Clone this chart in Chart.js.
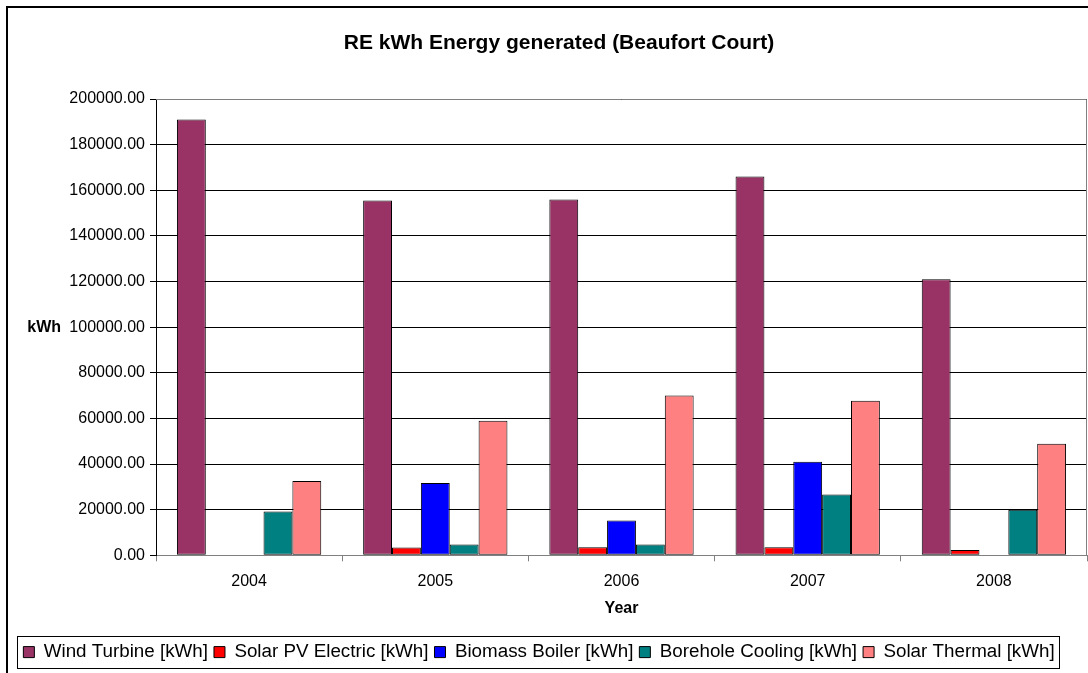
<!DOCTYPE html>
<html>
<head>
<meta charset="utf-8">
<title>RE kWh Energy generated (Beaufort Court)</title>
<script src="https://cdn.jsdelivr.net/npm/chart.js@4.4.1/dist/chart.umd.min.js"></script>
<style>
    body { margin: 0; background: #fff; overflow: hidden; }
    #frame {
        position: absolute; left: 6px; top: 6px;
        width: 1100px; height: 700px;
        border-left: 2px solid #000; border-top: 2px solid #000;
    }
    #energyChart { position: absolute; left: 0; top: 0; }
</style>
</head>
<body>
<div id="frame">
    <canvas id="energyChart" width="1080" height="665"></canvas>
</div>
<script>
// Yearly renewable output per source (kWh)
const years = ['2004', '2005', '2006', '2007', '2008'];
const windTurbine = [191000, 155500, 156000, 166000, 121000];
const solarPV = [null, 3400, 3500, 3500, 2300];
const biomassBoiler = [null, 31700, 15300, 41000, null];
const boreholeCooling = [19200, 4700, 4700, 26700, 20000];
const solarThermal = [32600, 59000, 70000, 67700, 48900];

const yMin = 0;
const yMax = 200000;
const yStep = 20000;

const FONT = 'Arial, "Liberation Sans", sans-serif';

function series(label, data, color) {
    return {
        label: label,
        data: data,
        backgroundColor: color,
        borderColor: '#000',
        borderWidth: 1,
        borderSkipped: false,
        categoryPercentage: 0.775,
        barPercentage: 1.0
    };
}

// Horizontal "kWh" label, plot frame and legend box
const extras = {
    id: 'extras',
    afterLayout(chart) {
        const lg = chart.legend;
        lg.left -= 20;
        lg.right -= 20;
    },
    beforeDatasetsDraw(chart) {
        const { ctx, chartArea: a } = chart;
        ctx.save();
        ctx.strokeStyle = '#808080';
        ctx.lineWidth = 1;
        ctx.beginPath();
        ctx.moveTo(a.left, a.top + 0.5);
        ctx.lineTo(a.right - 0.5, a.top + 0.5);
        ctx.lineTo(a.right - 0.5, a.bottom);
        ctx.stroke();
        ctx.restore();
    },
    afterDraw(chart) {
        const { ctx, chartArea: a } = chart;
        ctx.save();
        ctx.font = 'bold 16px ' + FONT;
        ctx.fillStyle = '#000';
        ctx.textAlign = 'right';
        ctx.textBaseline = 'middle';
        ctx.fillText('kWh', a.left - 95, (a.top + a.bottom) / 2);

        const boxes = chart.legend.legendHitBoxes;
        if (boxes && boxes.length) {
            const first = boxes[0];
            const last = boxes[boxes.length - 1];
            const x0 = Math.round(first.left - 6) + 0.5;
            const x1 = Math.round(last.left + last.width + 4) + 0.5;
            const y0 = Math.round(first.top - 7) + 0.5;
            const y1 = Math.round(first.top + first.height + 7) + 0.5;
            ctx.strokeStyle = '#000';
            ctx.lineWidth = 1;
            ctx.strokeRect(x0, y0, x1 - x0, y1 - y0);
        }
        ctx.restore();
    }
};

const ctx = document.getElementById('energyChart').getContext('2d');
new Chart(ctx, {
    type: 'bar',
    data: {
        labels: years,
        datasets: [
            series('Wind Turbine [kWh]', windTurbine, '#993366'),
            series('Solar PV Electric [kWh]', solarPV, '#FF0000'),
            series('Biomass Boiler [kWh]', biomassBoiler, '#0000FF'),
            series('Borehole Cooling [kWh]', boreholeCooling, '#008080'),
            series('Solar Thermal [kWh]', solarThermal, '#FF8080')
        ]
    },
    options: {
        responsive: false,
        animation: false,
        layout: {
            padding: { left: 23, right: 1, top: 0, bottom: 1.5 }
        },
        plugins: {
            title: {
                display: true,
                text: 'RE kWh Energy generated (Beaufort Court)',
                color: '#000',
                font: { family: FONT, size: 21, weight: 'bold' },
                padding: { top: 23, bottom: 42.8 }
            },
            legend: {
                position: 'bottom',
                labels: {
                    color: '#000',
                    font: { family: FONT, size: 18.8 },
                    boxWidth: 11,
                    boxHeight: 11,
                    padding: 6
                }
            },
            tooltip: { enabled: false }
        },
        scales: {
            x: {
                grid: {
                    drawOnChartArea: false,
                    color: '#808080',
                    tickLength: 6
                },
                border: { color: '#808080' },
                ticks: {
                    color: '#000',
                    padding: 11,
                    font: { family: FONT, size: 16 }
                },
                title: {
                    display: true,
                    text: 'Year',
                    color: '#000',
                    font: { family: FONT, size: 16, weight: 'bold' },
                    padding: { top: -4, bottom: 19 }
                }
            },
            y: {
                min: yMin,
                max: yMax,
                afterFit(scale) {
                    scale.width = 125;
                },
                grid: {
                    color: '#000',
                    tickLength: 6
                },
                border: { color: '#000' },
                ticks: {
                    stepSize: yStep,
                    color: '#000',
                    padding: 5,
                    font: { family: FONT, size: 16 },
                    callback: v => v.toFixed(2)
                }
            }
        }
    },
    plugins: [extras]
});
</script>
</body>
</html>
